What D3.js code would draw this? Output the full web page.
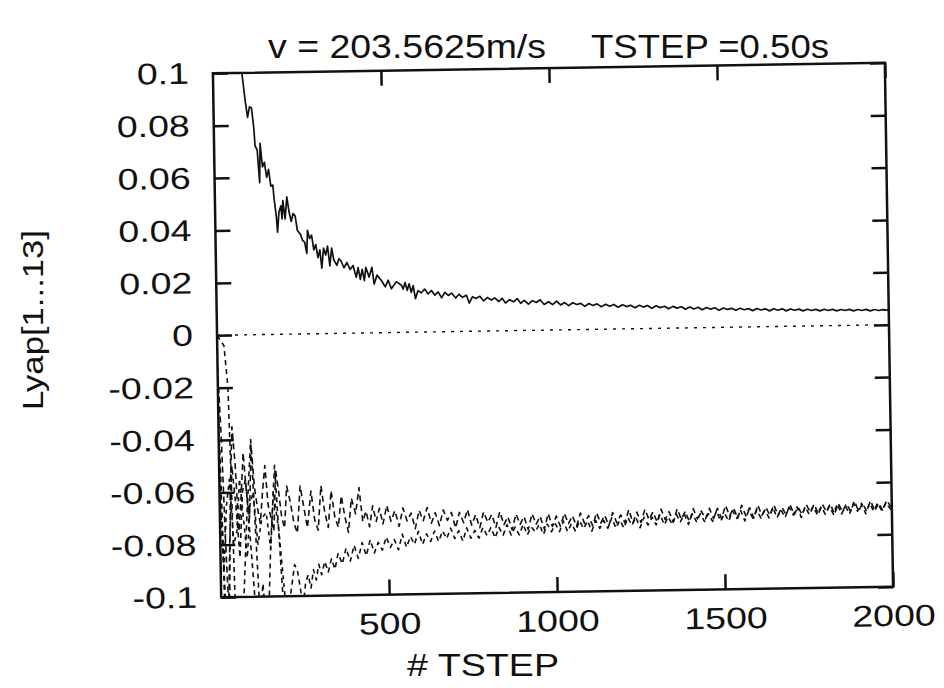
<!DOCTYPE html>
<html>
<head>
<meta charset="utf-8">
<script src="https://cdn.jsdelivr.net/npm/d3@7"></script>
<style>
body { margin: 0; background: #fff; }
svg text { font-family: "Liberation Sans", Arial, Helvetica, sans-serif; fill: #111; }
</style>
</head>
<body>
<svg id="chart"></svg>
<script>
const width = 944;
const height = 688;
// plot box (before the slight scan tilt)
const plot = { left: 217, top: 68, right: 889, bottom: 592 };
const tilt = -0.9;

const xTicks = [500, 1000, 1500, 2000];
const xTickLabels = ["500", "1000", "1500", "2000"];
const yTicks = [0.1, 0.08, 0.06, 0.04, 0.02, 0, -0.02, -0.04, -0.06, -0.08, -0.1];
const yTickLabels = ["0.1", "0.08", "0.06", "0.04", "0.02", "0", "-0.02", "-0.04", "-0.06", "-0.08", "-0.1"];
const titleParts = ["v = 203.5625m/s", "TSTEP =0.50s"];

// largest exponent (solid)
const lyap1 = [
  [60,0.135],[75,0.112],[86,0.100],[95,0.089],[101,0.083],[107,0.087],[113,0.0865],[119,0.079],
  [122,0.072],[128,0.0706],[134,0.058],[137,0.073],[143,0.064],[149,0.0657],[155,0.060],[161,0.063],
  [167,0.0566],[173,0.057],[176,0.052],[182,0.045],[185,0.039],[190,0.0467],[196,0.049],[199,0.044],
  [202,0.051],[208,0.044],[214,0.0524],[220,0.0467],[226,0.043],[232,0.046],[238,0.045],[244,0.0395],
  [253,0.038],[259,0.0357],[265,0.035],[271,0.0307],[274,0.0395],[280,0.0364],[286,0.0376],[292,0.032],
  [298,0.034],[304,0.029],[310,0.032],[315,0.025],[321,0.0326],[327,0.030],[333,0.0334],[339,0.0258],
  [345,0.0326],[351,0.028],[360,0.026],[366,0.0285],[372,0.0277],[381,0.025],[390,0.027],[399,0.0243],
  [408,0.0258],[417,0.0213],[423,0.025],[429,0.0205],[435,0.0243],[441,0.020],[446,0.025],[455,0.0213],
  [464,0.025],[470,0.0186],[479,0.022],[491,0.020],[503,0.0175],[512,0.020],[521,0.0167],[536,0.0194],
  [551,0.018],[556,0.0165],[562,0.0190],[568,0.0160],[574,0.0185],[580,0.0152],[586,0.0178],[592,0.0128],
  [600,0.0158],[610,0.0150],[620,0.0164],[630,0.0145],[640,0.0158],[650,0.0140],[660,0.0152],[670,0.0130],
  [680,0.0150],[690,0.0138],[700,0.0147],[712,0.0128],[722,0.0142],[732,0.0130],[744,0.0138],[752,0.0108],
  [762,0.0132],[772,0.0125],[784,0.0133],[795,0.0115],[806,0.0128],[818,0.0118],[828,0.0126],[840,0.0112],
  [850,0.0124],[860,0.0106],[872,0.0118],[884,0.0110],[895,0.0122],[905,0.0104],[916,0.0115],[928,0.0100],
  [940,0.0113],[952,0.0106],[963,0.0116],[975,0.0098],[988,0.0108],[1000,0.0097],[1012,0.0110],[1024,0.0095],
  [1036,0.0104],[1048,0.0092],[1060,0.0103],[1072,0.0096],[1084,0.0100],[1096,0.0088],[1108,0.0099],[1120,0.0091],
  [1132,0.0097],[1145,0.0086],[1158,0.0095],[1170,0.0087],[1182,0.0094],[1195,0.0083],[1208,0.0092],[1220,0.0085],
  [1232,0.0090],[1245,0.0080],[1258,0.0089],[1270,0.0082],[1282,0.0088],[1295,0.0077],[1308,0.0086],[1320,0.0079],
  [1333,0.0084],[1345,0.0074],[1358,0.0083],[1370,0.0076],[1383,0.0081],[1395,0.0071],[1408,0.0080],[1420,0.0072],
  [1433,0.0078],[1445,0.0068],[1458,0.0077],[1470,0.0070],[1483,0.0075],[1495,0.0065],[1508,0.0074],[1520,0.0068],
  [1533,0.0072],[1545,0.0064],[1558,0.0072],[1570,0.0066],[1583,0.0070],[1595,0.0062],[1608,0.0070],[1620,0.0064],
  [1633,0.0068],[1645,0.0060],[1658,0.0068],[1670,0.0062],[1683,0.0067],[1695,0.0059],[1708,0.0066],[1720,0.0061],
  [1733,0.0065],[1745,0.0058],[1758,0.0064],[1770,0.0059],[1783,0.0063],[1795,0.0057],[1808,0.0063],[1820,0.0058],
  [1833,0.0062],[1845,0.0056],[1858,0.0061],[1870,0.0057],[1883,0.0061],[1895,0.0055],[1908,0.0060],[1920,0.0056],
  [1933,0.0060],[1945,0.0054],[1958,0.0059],[1970,0.0055],[1983,0.0058],[2000,0.0055]
];

// near-zero exponent (dotted)
const lyap2 = [[0,0],[2000,0]];

// upper of the two negative ones (dashed)
const lyap3 = [
  [0,-0.012],[8,-0.04],[16,-0.08],[24,-0.11],[32,-0.06],[40,-0.035],[48,-0.05],[56,-0.075],
  [64,-0.062],[72,-0.045],[80,-0.06],[88,-0.07],[96,-0.042],[104,-0.058],[112,-0.066],[120,-0.072],
  [128,-0.06],[136,-0.05],[144,-0.065],[152,-0.07],[160,-0.075],[168,-0.052],[176,-0.06],[184,-0.07],
  [192,-0.074],[200,-0.058],[210,-0.064],[220,-0.072],[230,-0.076],[240,-0.058],[250,-0.066],[260,-0.074],
  [272,-0.06],[282,-0.071],[292,-0.075],[302,-0.058],[312,-0.068],[322,-0.074],[332,-0.06],[342,-0.07],
  [352,-0.074],[362,-0.062],[372,-0.07],[382,-0.076],[392,-0.063],[404,-0.069],[415,-0.059],[425,-0.072],
  [435,-0.068],[445,-0.074],[455,-0.066],[465,-0.072],[475,-0.067],[485,-0.073],[497,-0.066],[509,-0.072],
  [521,-0.068],[533,-0.074],[545,-0.067],[557,-0.072],[569,-0.069],[581,-0.075],[593,-0.068],[605,-0.072],
  [617,-0.067],[629,-0.073],[641,-0.069],[653,-0.074],[665,-0.068],[677,-0.072],[689,-0.069],[701,-0.075],
  [713,-0.069],[725,-0.073],[737,-0.068],[749,-0.074],[761,-0.070],[773,-0.075],[785,-0.069],[797,-0.073],
  [809,-0.070],[821,-0.075],[833,-0.069],[845,-0.074],[857,-0.071],[869,-0.076],[881,-0.070],[893,-0.074],
  [905,-0.071],[917,-0.076],[929,-0.070],[941,-0.074],[953,-0.071],[965,-0.076],[977,-0.070],[989,-0.075],
  [1001,-0.071],[1013,-0.075],[1025,-0.070],[1037,-0.074],[1049,-0.071],[1061,-0.075],[1073,-0.070],[1085,-0.074],
  [1097,-0.071],[1109,-0.075],[1121,-0.070],[1133,-0.074],[1145,-0.071],[1157,-0.075],[1169,-0.070],[1181,-0.074],
  [1193,-0.071],[1205,-0.074],[1217,-0.069],[1229,-0.074],[1241,-0.070],[1253,-0.074],[1265,-0.069],[1277,-0.073],
  [1289,-0.070],[1301,-0.074],[1313,-0.069],[1325,-0.073],[1337,-0.070],[1349,-0.074],[1361,-0.069],[1373,-0.073],
  [1385,-0.070],[1397,-0.074],[1409,-0.069],[1421,-0.073],[1433,-0.070],[1445,-0.073],[1457,-0.069],[1469,-0.073],
  [1481,-0.069],[1493,-0.073],[1505,-0.068],[1517,-0.072],[1529,-0.069],[1541,-0.073],[1553,-0.068],[1565,-0.072],
  [1577,-0.069],[1589,-0.073],[1601,-0.068],[1613,-0.072],[1625,-0.069],[1637,-0.072],[1649,-0.068],[1661,-0.072],
  [1673,-0.069],[1685,-0.072],[1697,-0.068],[1709,-0.072],[1721,-0.069],[1733,-0.072],[1745,-0.068],[1757,-0.071],
  [1769,-0.068],[1781,-0.072],[1793,-0.068],[1805,-0.071],[1817,-0.068],[1829,-0.072],[1841,-0.068],[1853,-0.071],
  [1865,-0.068],[1877,-0.071],[1889,-0.067],[1901,-0.071],[1913,-0.068],[1925,-0.071],[1937,-0.067],[1949,-0.071],
  [1961,-0.068],[1973,-0.071],[1985,-0.067],[2000,-0.070]
];

// lower of the two negative ones (dashed)
const lyap4 = [
  [0,-0.03],[10,-0.09],[20,-0.13],[40,-0.15],[60,-0.12],[80,-0.07],[95,-0.04],[110,-0.09],
  [125,-0.14],[140,-0.11],[150,-0.08],[165,-0.05],[180,-0.09],[192,-0.12],[200,-0.105],[212,-0.095],
  [220,-0.088],[228,-0.090],[236,-0.097],[244,-0.104],[252,-0.095],[260,-0.092],[268,-0.097],[276,-0.090],
  [284,-0.094],[292,-0.088],[300,-0.092],[310,-0.087],[320,-0.091],[330,-0.086],[340,-0.090],[350,-0.084],
  [362,-0.088],[374,-0.082],[386,-0.087],[398,-0.081],[410,-0.086],[422,-0.080],[434,-0.085],[446,-0.079],
  [458,-0.084],[470,-0.080],[482,-0.083],[494,-0.078],[506,-0.082],[518,-0.079],[530,-0.083],[542,-0.077],
  [554,-0.082],[566,-0.078],[578,-0.081],[590,-0.076],[602,-0.081],[614,-0.077],[626,-0.080],[638,-0.076],
  [650,-0.080],[662,-0.076],[674,-0.079],[686,-0.075],[698,-0.079],[710,-0.076],[722,-0.080],[734,-0.075],
  [746,-0.079],[758,-0.076],[770,-0.079],[782,-0.075],[794,-0.078],[806,-0.075],[818,-0.079],[830,-0.075],
  [842,-0.078],[854,-0.074],[866,-0.078],[878,-0.075],[890,-0.078],[902,-0.074],[914,-0.078],[926,-0.075],
  [938,-0.077],[950,-0.074],[962,-0.078],[974,-0.074],[986,-0.077],[998,-0.074],[1010,-0.077],[1022,-0.073],
  [1034,-0.077],[1046,-0.074],[1058,-0.077],[1070,-0.073],[1082,-0.076],[1094,-0.073],[1106,-0.077],[1118,-0.073],
  [1130,-0.076],[1142,-0.073],[1154,-0.076],[1166,-0.072],[1178,-0.076],[1190,-0.073],[1202,-0.076],[1214,-0.072],
  [1226,-0.075],[1238,-0.072],[1250,-0.076],[1262,-0.072],[1274,-0.075],[1286,-0.072],[1298,-0.075],[1310,-0.071],
  [1322,-0.075],[1334,-0.072],[1346,-0.075],[1358,-0.071],[1370,-0.074],[1382,-0.071],[1394,-0.075],[1406,-0.071],
  [1418,-0.074],[1430,-0.071],[1442,-0.074],[1454,-0.071],[1466,-0.074],[1478,-0.070],[1490,-0.074],[1502,-0.071],
  [1514,-0.074],[1526,-0.070],[1538,-0.073],[1550,-0.070],[1562,-0.074],[1574,-0.070],[1586,-0.073],[1598,-0.070],
  [1610,-0.073],[1622,-0.070],[1634,-0.073],[1646,-0.069],[1658,-0.073],[1670,-0.070],[1682,-0.073],[1694,-0.069],
  [1706,-0.072],[1718,-0.069],[1730,-0.073],[1742,-0.069],[1754,-0.072],[1766,-0.069],[1778,-0.072],[1790,-0.069],
  [1802,-0.072],[1814,-0.069],[1826,-0.072],[1838,-0.068],[1850,-0.072],[1862,-0.069],[1874,-0.072],[1886,-0.068],
  [1898,-0.071],[1910,-0.068],[1922,-0.072],[1934,-0.068],[1946,-0.071],[1958,-0.068],[1970,-0.071],[1982,-0.068],
  [2000,-0.071]
];

// the other exponents only show in the first steps
const lyap5 = [[0,0.0],[20,-0.004],[30,-0.02],[36,-0.06],[42,-0.105],[60,-0.13]];
const lyap6 = [
  [0,-0.03],[10,-0.1],[18,-0.12],[28,-0.08],[38,-0.05],[48,-0.065],[58,-0.085],[68,-0.06],
  [78,-0.055],[88,-0.075],[98,-0.095],[108,-0.12],[125,-0.095],[133,-0.11],[150,-0.13]
];
const lyap7 = [
  [0,-0.06],[10,-0.09],[20,-0.065],[30,-0.055],[40,-0.08],[50,-0.075],[60,-0.055],[70,-0.07],
  [80,-0.085],[90,-0.065],[100,-0.06],[112,-0.08],[125,-0.07],[138,-0.068],[150,-0.082],[160,-0.06],
  [175,-0.075],[190,-0.1],[200,-0.11]
];

const svg = d3.select("#chart")
    .attr("width", width)
    .attr("height", height);

svg.append("rect").attr("width", width).attr("height", height).attr("fill", "#fff");

const x = d3.scaleLinear().domain([0, 2000]).range([plot.left, plot.right]);
const y = d3.scaleLinear().domain([-0.1, 0.1]).range([plot.bottom, plot.top]);

const cx = (plot.left + plot.right) / 2;
const cy = (plot.top + plot.bottom) / 2;

// whole plot sits a little tilted, like the scanned page
const g = svg.append("g")
    .attr("transform", `rotate(${tilt},${cx},${cy})`);

g.append("clipPath").attr("id", "clip")
  .append("rect")
    .attr("x", plot.left).attr("y", plot.top)
    .attr("width", plot.right - plot.left).attr("height", plot.bottom - plot.top);

const line = d3.line()
    .x(d => x(d[0]))
    .y(d => y(d[1]));

const series = [
  { data: lyap2, dash: "3,6", w: 1.4 },
  { data: lyap5, dash: "5,4", w: 1.6 },
  { data: lyap6, dash: "5,4", w: 1.6 },
  { data: lyap7, dash: "4,4", w: 1.6 },
  { data: lyap4, dash: "5,4", w: 1.6 },
  { data: lyap3, dash: "6,4", w: 1.6 },
  { data: lyap1, dash: null, w: 1.7 }
];

g.append("g").attr("clip-path", "url(#clip)")
  .selectAll("path")
  .data(series)
  .enter().append("path")
    .attr("d", d => line(d.data))
    .attr("fill", "none")
    .attr("stroke", "#111")
    .attr("stroke-width", d => d.w)
    .attr("stroke-dasharray", d => d.dash)
    .attr("stroke-linejoin", "round");

const tickStyle = sel => {
  sel.select(".domain").remove();
  sel.selectAll(".tick line").attr("stroke", "#111").attr("stroke-width", 2.5);
};
const stretch = sel => {
  sel.selectAll("text")
    .attr("font-size", 30)
    .attr("fill", "#111")
    .attr("lengthAdjust", "spacingAndGlyphs")
    .attr("textLength", function () { return this.getComputedTextLength() * 1.25; });
};

g.append("g")
    .attr("transform", `translate(${plot.left},0)`)
    .call(d3.axisLeft(y).tickValues(yTicks).tickSize(-15).tickPadding(24)
      .tickFormat((d, i) => yTickLabels[i]))
    .call(tickStyle)
    .call(stretch);

g.append("g")
    .attr("transform", `translate(${plot.right},0)`)
    .call(d3.axisRight(y).tickValues(yTicks).tickSize(-15).tickFormat(""))
    .call(tickStyle);

g.append("g")
    .attr("transform", `translate(0,${plot.bottom})`)
    .call(d3.axisBottom(x).tickValues(xTicks).tickSize(-15).tickPadding(18)
      .tickFormat((d, i) => xTickLabels[i]))
    .call(tickStyle)
    .call(stretch);

g.append("g")
    .attr("transform", `translate(0,${plot.top})`)
    .call(d3.axisTop(x).tickValues(xTicks).tickSize(-15).tickFormat(""))
    .call(tickStyle);

g.append("rect")
    .attr("x", plot.left).attr("y", plot.top)
    .attr("width", plot.right - plot.left).attr("height", plot.bottom - plot.top)
    .attr("fill", "none")
    .attr("stroke", "#111")
    .attr("stroke-width", 2.5);

// titles
svg.append("text")
    .attr("x", 268).attr("y", 58)
    .attr("font-size", 34)
    .attr("textLength", 278).attr("lengthAdjust", "spacingAndGlyphs")
    .text(titleParts[0]);

svg.append("text")
    .attr("x", 591).attr("y", 58)
    .attr("font-size", 34)
    .attr("textLength", 238).attr("lengthAdjust", "spacingAndGlyphs")
    .text(titleParts[1]);

svg.append("text")
    .attr("x", 407).attr("y", 676)
    .attr("font-size", 31)
    .attr("textLength", 152).attr("lengthAdjust", "spacingAndGlyphs")
    .text("# TSTEP");

svg.append("text")
    .attr("transform", "translate(43,320) rotate(-90)")
    .attr("text-anchor", "middle")
    .attr("font-size", 30)
    .attr("textLength", 180).attr("lengthAdjust", "spacingAndGlyphs")
    .text("Lyap[1...13]");
</script>
</body>
</html>
